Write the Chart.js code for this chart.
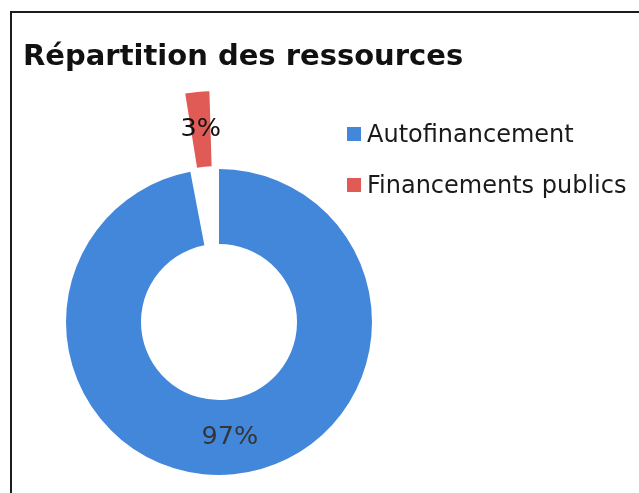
<!DOCTYPE html>
<html>
<head>
<meta charset="utf-8">
<script src="https://cdn.jsdelivr.net/npm/chart.js@4"></script>
<style>
  html, body { margin: 0; padding: 0; background: #fff; width: 639px; height: 493px; overflow: hidden; }
  #frame { position: absolute; left: 10px; top: 11px; width: 700px; height: 600px; border: 2px solid #1c1c1c; box-sizing: border-box; }
  #c { position: absolute; left: 0; top: 0; }
  #title { position: absolute; left: 23px; top: 41px; font: bold 29px/29px "DejaVu Sans", sans-serif; color: #111; white-space: nowrap; }
  .leg { position: absolute; left: 347px; font: 24px/24px "DejaVu Sans", sans-serif; color: #1a1a1a; white-space: nowrap; }
  .leg .sw { position: absolute; left: 0; width: 14px; height: 14px; top: 5px; }
  .leg .tx { position: absolute; left: 20px; top: 0; }
</style>
</head>
<body>
<div id="frame"></div>
<canvas id="c" width="639" height="493"></canvas>
<div id="title"></div>
<div id="legend"></div>
<script>
// ---- data ----
const titleText = "Répartition des ressources";
const categories = ["Autofinancement", "Financements publics"];
const values = [97, 3];
const colors = ["#4387db", "#e05a56"];
const labelColors = ["#353535", "#111111"];
const offsets = [0, 172];

document.getElementById('title').textContent = titleText;
const legendEl = document.getElementById('legend');
const legendTops = [122, 173];
categories.forEach((name, i) => {
  const d = document.createElement('div');
  d.className = 'leg';
  d.style.top = legendTops[i] + 'px';
  const sw = document.createElement('span');
  sw.className = 'sw';
  sw.style.background = colors[i];
  const tx = document.createElement('span');
  tx.className = 'tx';
  tx.textContent = name;
  d.appendChild(sw); d.appendChild(tx);
  legendEl.appendChild(d);
});

const pctLabels = {
  id: 'pctLabels',
  afterDatasetsDraw(chart) {
    const ctx = chart.ctx;
    const meta = chart.getDatasetMeta(0);
    const data = chart.data.datasets[0].data;
    const total = data.reduce((a, b) => a + b, 0);
    meta.data.forEach((arc, i) => {
      const p = arc.getProps(['x', 'y', 'startAngle', 'endAngle', 'innerRadius', 'outerRadius', 'circumference']);
      const off = arc.options.offset || 0;
      const fix = 1 - Math.sin(Math.min(Math.PI, p.circumference || 0));
      const shift = off / 4 * (1 + fix);
      const mid = (p.startAngle + p.endAngle) / 2;
      const r = (p.innerRadius + p.outerRadius) / 2 + shift;
      const x = p.x + Math.cos(mid) * r;
      const y = p.y + Math.sin(mid) * r;
      ctx.save();
      ctx.font = '25.5px "DejaVu Sans", sans-serif';
      ctx.fillStyle = labelColors[i];
      ctx.textAlign = 'center';
      ctx.textBaseline = 'middle';
      ctx.fillText(Math.round(data[i] / total * 100) + '%', x, y);
      ctx.restore();
    });
  }
};

new Chart(document.getElementById('c'), {
  type: 'doughnut',
  data: {
    labels: categories,
    datasets: [{
      data: values,
      backgroundColor: colors,
      borderWidth: 0,
      offset: offsets
    }]
  },
  options: {
    responsive: false,
    animation: false,
    radius: 153,
    cutout: '51%',
    layout: { padding: { left: 0, right: 201, top: 151, bottom: 0 } },
    plugins: { legend: { display: false }, title: { display: false }, tooltip: { enabled: false } }
  },
  plugins: [pctLabels]
});
</script>
</body>
</html>
